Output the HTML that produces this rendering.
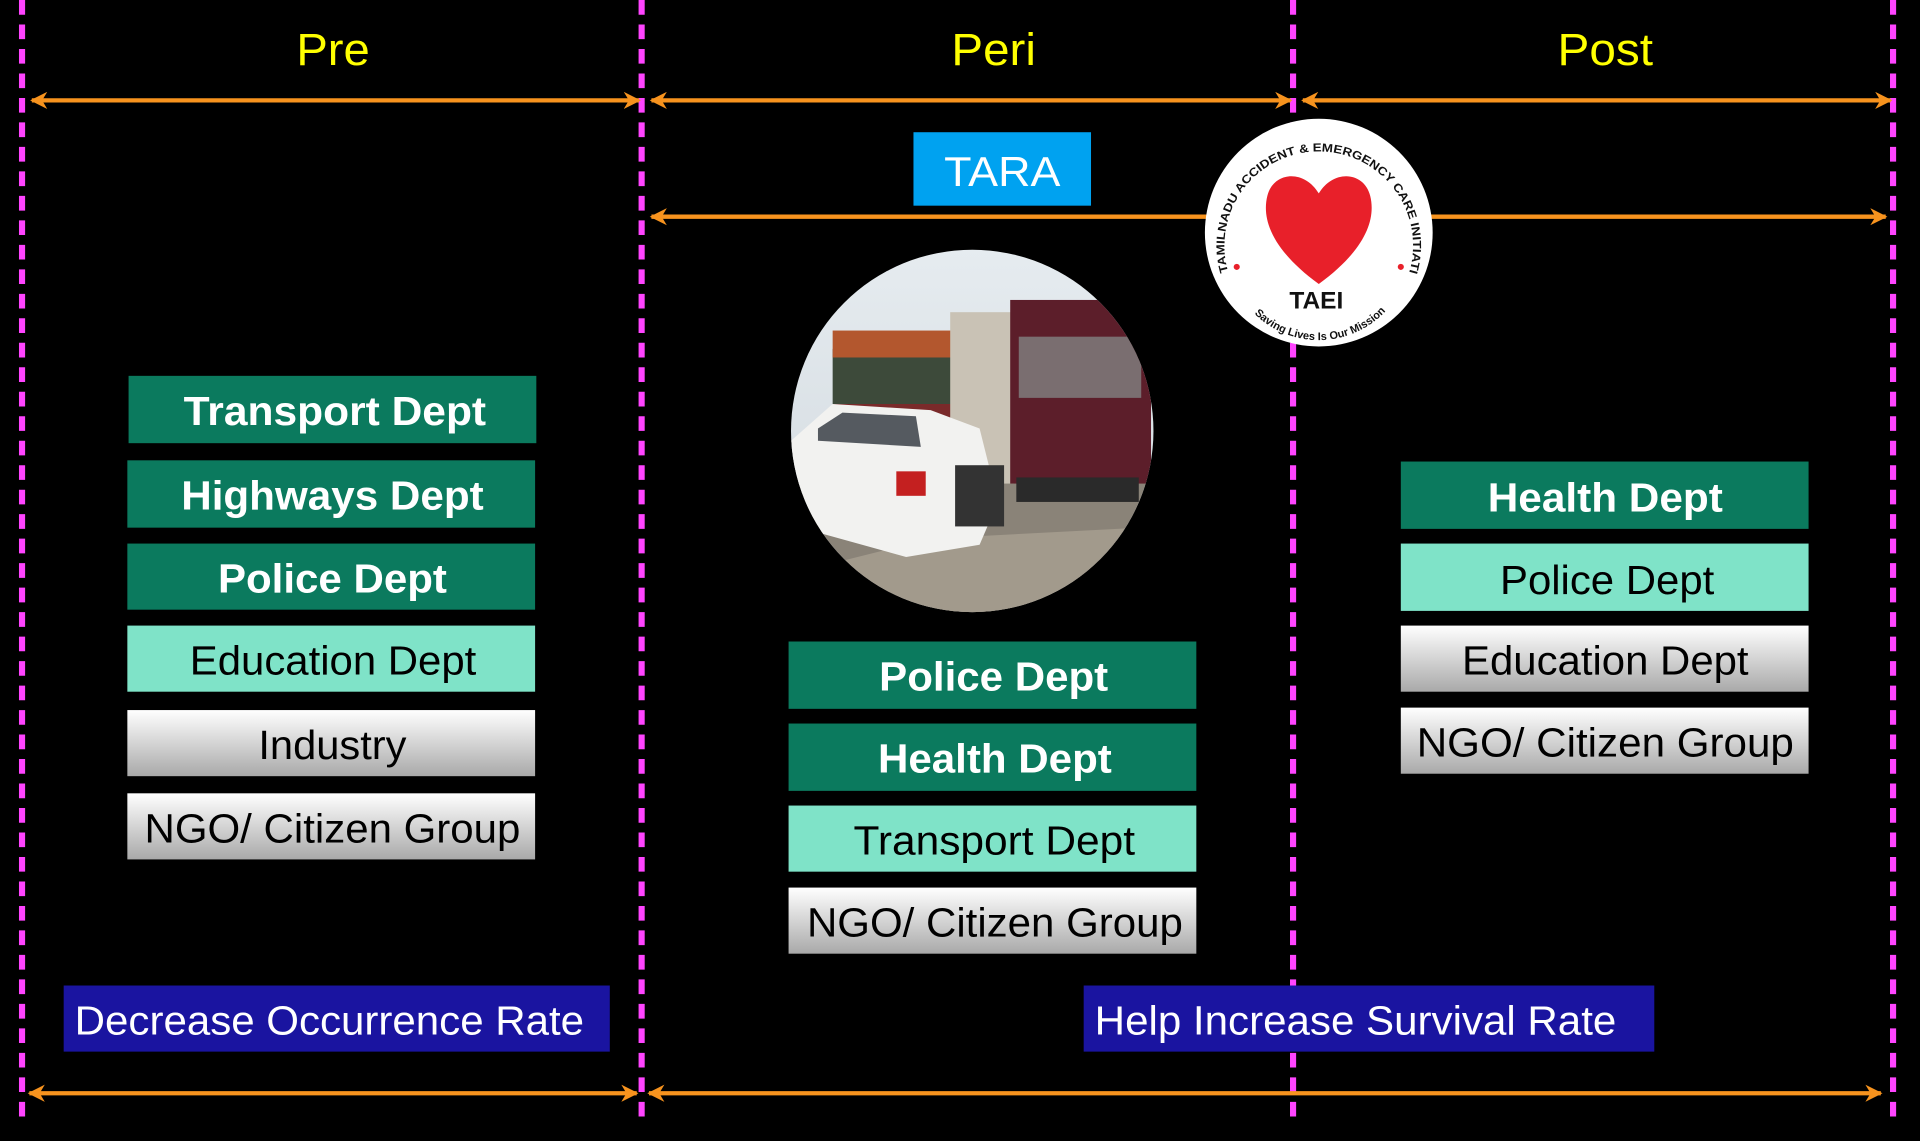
<!DOCTYPE html>
<html><head><meta charset="utf-8"><style>
html,body{margin:0;padding:0;background:#000;}
svg{display:block}
</style></head><body>
<svg width="1920" height="1141" viewBox="0 0 1568 932" xmlns="http://www.w3.org/2000/svg" preserveAspectRatio="none">
<defs>
<linearGradient id="gray" x1="0" y1="0" x2="0" y2="1"><stop offset="0" stop-color="#ffffff"/><stop offset="1" stop-color="#a9a9a9"/></linearGradient>
<linearGradient id="sky" x1="0" y1="0" x2="0" y2="1"><stop offset="0" stop-color="#e6ecf0"/><stop offset="1" stop-color="#cfd6dc"/></linearGradient>
<clipPath id="pc"><circle cx="794" cy="352" r="148"/></clipPath>
<marker id="ah" viewBox="0 0 10 10" refX="9" refY="5" markerWidth="4" markerHeight="4" orient="auto-start-reverse"><path d="M0,0 L10,5 L0,10 L3,5 z" fill="#f7931e"/></marker>
</defs>
<rect width="1568" height="932" fill="#000"/>
<g stroke="#ff44ff" stroke-width="5" stroke-dasharray="12,8">
<line x1="18" y1="0" x2="18" y2="912"/>
<line x1="524" y1="0" x2="524" y2="912"/>
<line x1="1056" y1="0" x2="1056" y2="912"/>
<line x1="1546" y1="0" x2="1546" y2="912"/>
</g>
<g font-family="Liberation Sans, sans-serif" font-size="37" fill="#ffff00" lengthAdjust="spacingAndGlyphs">
<text x="242" y="53" textLength="60" lengthAdjust="spacingAndGlyphs">Pre</text><text x="777" y="53" textLength="69" lengthAdjust="spacingAndGlyphs">Peri</text><text x="1272" y="53" textLength="78" lengthAdjust="spacingAndGlyphs">Post</text>
</g>
<g stroke="#f7931e" stroke-width="3.5" marker-start="url(#ah)" marker-end="url(#ah)">
<line x1="26" y1="82" x2="522" y2="82"/>
<line x1="532" y1="82" x2="1054" y2="82"/>
<line x1="1064" y1="82" x2="1544" y2="82"/>
<line x1="532" y1="177" x2="1540" y2="177"/>
<line x1="24" y1="893" x2="520" y2="893"/>
<line x1="530" y1="893" x2="1536" y2="893"/>
</g>
<rect x="746" y="108" width="145" height="60" fill="#00a2f0"/>
<text x="771" y="152" font-family="Liberation Sans, sans-serif" font-size="34" fill="#fff" textLength="95" lengthAdjust="spacingAndGlyphs">TARA</text>
<!-- logo -->
<circle cx="1077" cy="190" r="93" fill="#fff"/>
<path d="M1077,232 C1040,205 1030,180 1035,160 C1040,140 1065,138 1077,158 C1089,138 1114,140 1119,160 C1124,180 1114,205 1077,232 Z" fill="#e8202a"/>
<text x="1075" y="252" font-family="Liberation Sans, sans-serif" font-weight="bold" font-size="20" fill="#111" text-anchor="middle">TAEI</text>
<path id="arc2" d="M1015,245 A75,75 0 0 0 1139,245" fill="none"/>
<text font-family="Liberation Sans, sans-serif" font-weight="bold" font-size="9" fill="#111"><textPath href="#arc2" startOffset="10%">Saving Lives Is Our Mission</textPath></text>
<path id="arc" d="M1003,222 A77,77 0 1 1 1151,222" fill="none"/>
<text font-family="Liberation Sans, sans-serif" font-weight="bold" font-size="9.5" fill="#111"><textPath href="#arc" textLength="300" lengthAdjust="spacingAndGlyphs">TAMILNADU ACCIDENT &amp; EMERGENCY CARE INITIATIVE</textPath></text>
<circle cx="1010" cy="218" r="2.5" fill="#e8202a"/><circle cx="1144" cy="218" r="2.5" fill="#e8202a"/>
<!-- photo -->
<g clip-path="url(#pc)">
<rect x="640" y="200" width="310" height="310" fill="url(#sky)"/>
<rect x="640" y="390" width="310" height="120" fill="#8a8378"/>
<polygon points="640,470 760,440 950,430 950,510 640,510" fill="#a29a8c"/>
<rect x="680" y="285" width="110" height="60" fill="#3d4a3a"/>
<rect x="680" y="270" width="110" height="22" fill="#b3572e"/>
<rect x="680" y="330" width="110" height="40" fill="#7a2a2a"/>
<rect x="776" y="255" width="52" height="140" fill="#c9c2b5"/>
<rect x="825" y="245" width="115" height="150" fill="#5c1e2a"/>
<rect x="832" y="275" width="100" height="50" fill="#7a6e70"/>
<rect x="830" y="390" width="100" height="20" fill="#2a2a2a"/>
<polygon points="646,360 680,330 760,335 800,350 815,410 800,445 740,455 650,430" fill="#f2f2f0"/>
<polygon points="668,350 688,337 748,340 752,365 668,360" fill="#555a60"/>
<rect x="732" y="385" width="24" height="20" fill="#c42020"/>
<rect x="780" y="380" width="40" height="50" fill="#333"/>
</g>
<!-- boxes -->
<g font-family="Liberation Sans, sans-serif" font-size="33">
<rect x="105" y="307" width="333" height="55" fill="#0b7a5e"/><text x="150" y="347" fill="#fff" font-weight="bold" textLength="247" lengthAdjust="spacingAndGlyphs">Transport Dept</text>
<rect x="104" y="376" width="333" height="55" fill="#0b7a5e"/><text x="148" y="416" fill="#fff" font-weight="bold" textLength="247" lengthAdjust="spacingAndGlyphs">Highways Dept</text>
<rect x="104" y="444" width="333" height="54" fill="#0b7a5e"/><text x="178" y="484" fill="#fff" font-weight="bold" textLength="187" lengthAdjust="spacingAndGlyphs">Police Dept</text>
<rect x="104" y="511" width="333" height="54" fill="#7fe3c8"/><text x="155" y="551" fill="#000" textLength="234" lengthAdjust="spacingAndGlyphs">Education Dept</text>
<rect x="104" y="580" width="333" height="54" fill="url(#gray)"/><text x="211" y="620" fill="#000" textLength="121" lengthAdjust="spacingAndGlyphs">Industry</text>
<rect x="104" y="648" width="333" height="54" fill="url(#gray)"/><text x="118" y="688" fill="#000" textLength="307" lengthAdjust="spacingAndGlyphs">NGO/ Citizen Group</text>

<rect x="644" y="524" width="333" height="55" fill="#0b7a5e"/><text x="718" y="564" fill="#fff" font-weight="bold" textLength="187" lengthAdjust="spacingAndGlyphs">Police Dept</text>
<rect x="644" y="591" width="333" height="55" fill="#0b7a5e"/><text x="717" y="631" fill="#fff" font-weight="bold" textLength="191" lengthAdjust="spacingAndGlyphs">Health Dept</text>
<rect x="644" y="658" width="333" height="54" fill="#7fe3c8"/><text x="697" y="698" fill="#000" textLength="230" lengthAdjust="spacingAndGlyphs">Transport Dept</text>
<rect x="644" y="725" width="333" height="54" fill="url(#gray)"/><text x="659" y="765" fill="#000" textLength="307" lengthAdjust="spacingAndGlyphs">NGO/ Citizen Group</text>

<rect x="1144" y="377" width="333" height="55" fill="#0b7a5e"/><text x="1215" y="418" fill="#fff" font-weight="bold" textLength="192" lengthAdjust="spacingAndGlyphs">Health Dept</text>
<rect x="1144" y="444" width="333" height="55" fill="#7fe3c8"/><text x="1225" y="485" fill="#000" textLength="175" lengthAdjust="spacingAndGlyphs">Police Dept</text>
<rect x="1144" y="511" width="333" height="54" fill="url(#gray)"/><text x="1194" y="551" fill="#000" textLength="234" lengthAdjust="spacingAndGlyphs">Education Dept</text>
<rect x="1144" y="578" width="333" height="54" fill="url(#gray)"/><text x="1157" y="618" fill="#000" textLength="308" lengthAdjust="spacingAndGlyphs">NGO/ Citizen Group</text>
</g>
<g font-family="Liberation Sans, sans-serif" font-size="33" fill="#fff">
<rect x="52" y="805" width="446" height="54" fill="#1a14a0"/><text x="61" y="845" textLength="416" lengthAdjust="spacingAndGlyphs">Decrease Occurrence Rate</text>
<rect x="885" y="805" width="466" height="54" fill="#1a14a0"/><text x="894" y="845" textLength="426" lengthAdjust="spacingAndGlyphs">Help Increase Survival Rate</text>
</g>
</svg>
</body></html>
